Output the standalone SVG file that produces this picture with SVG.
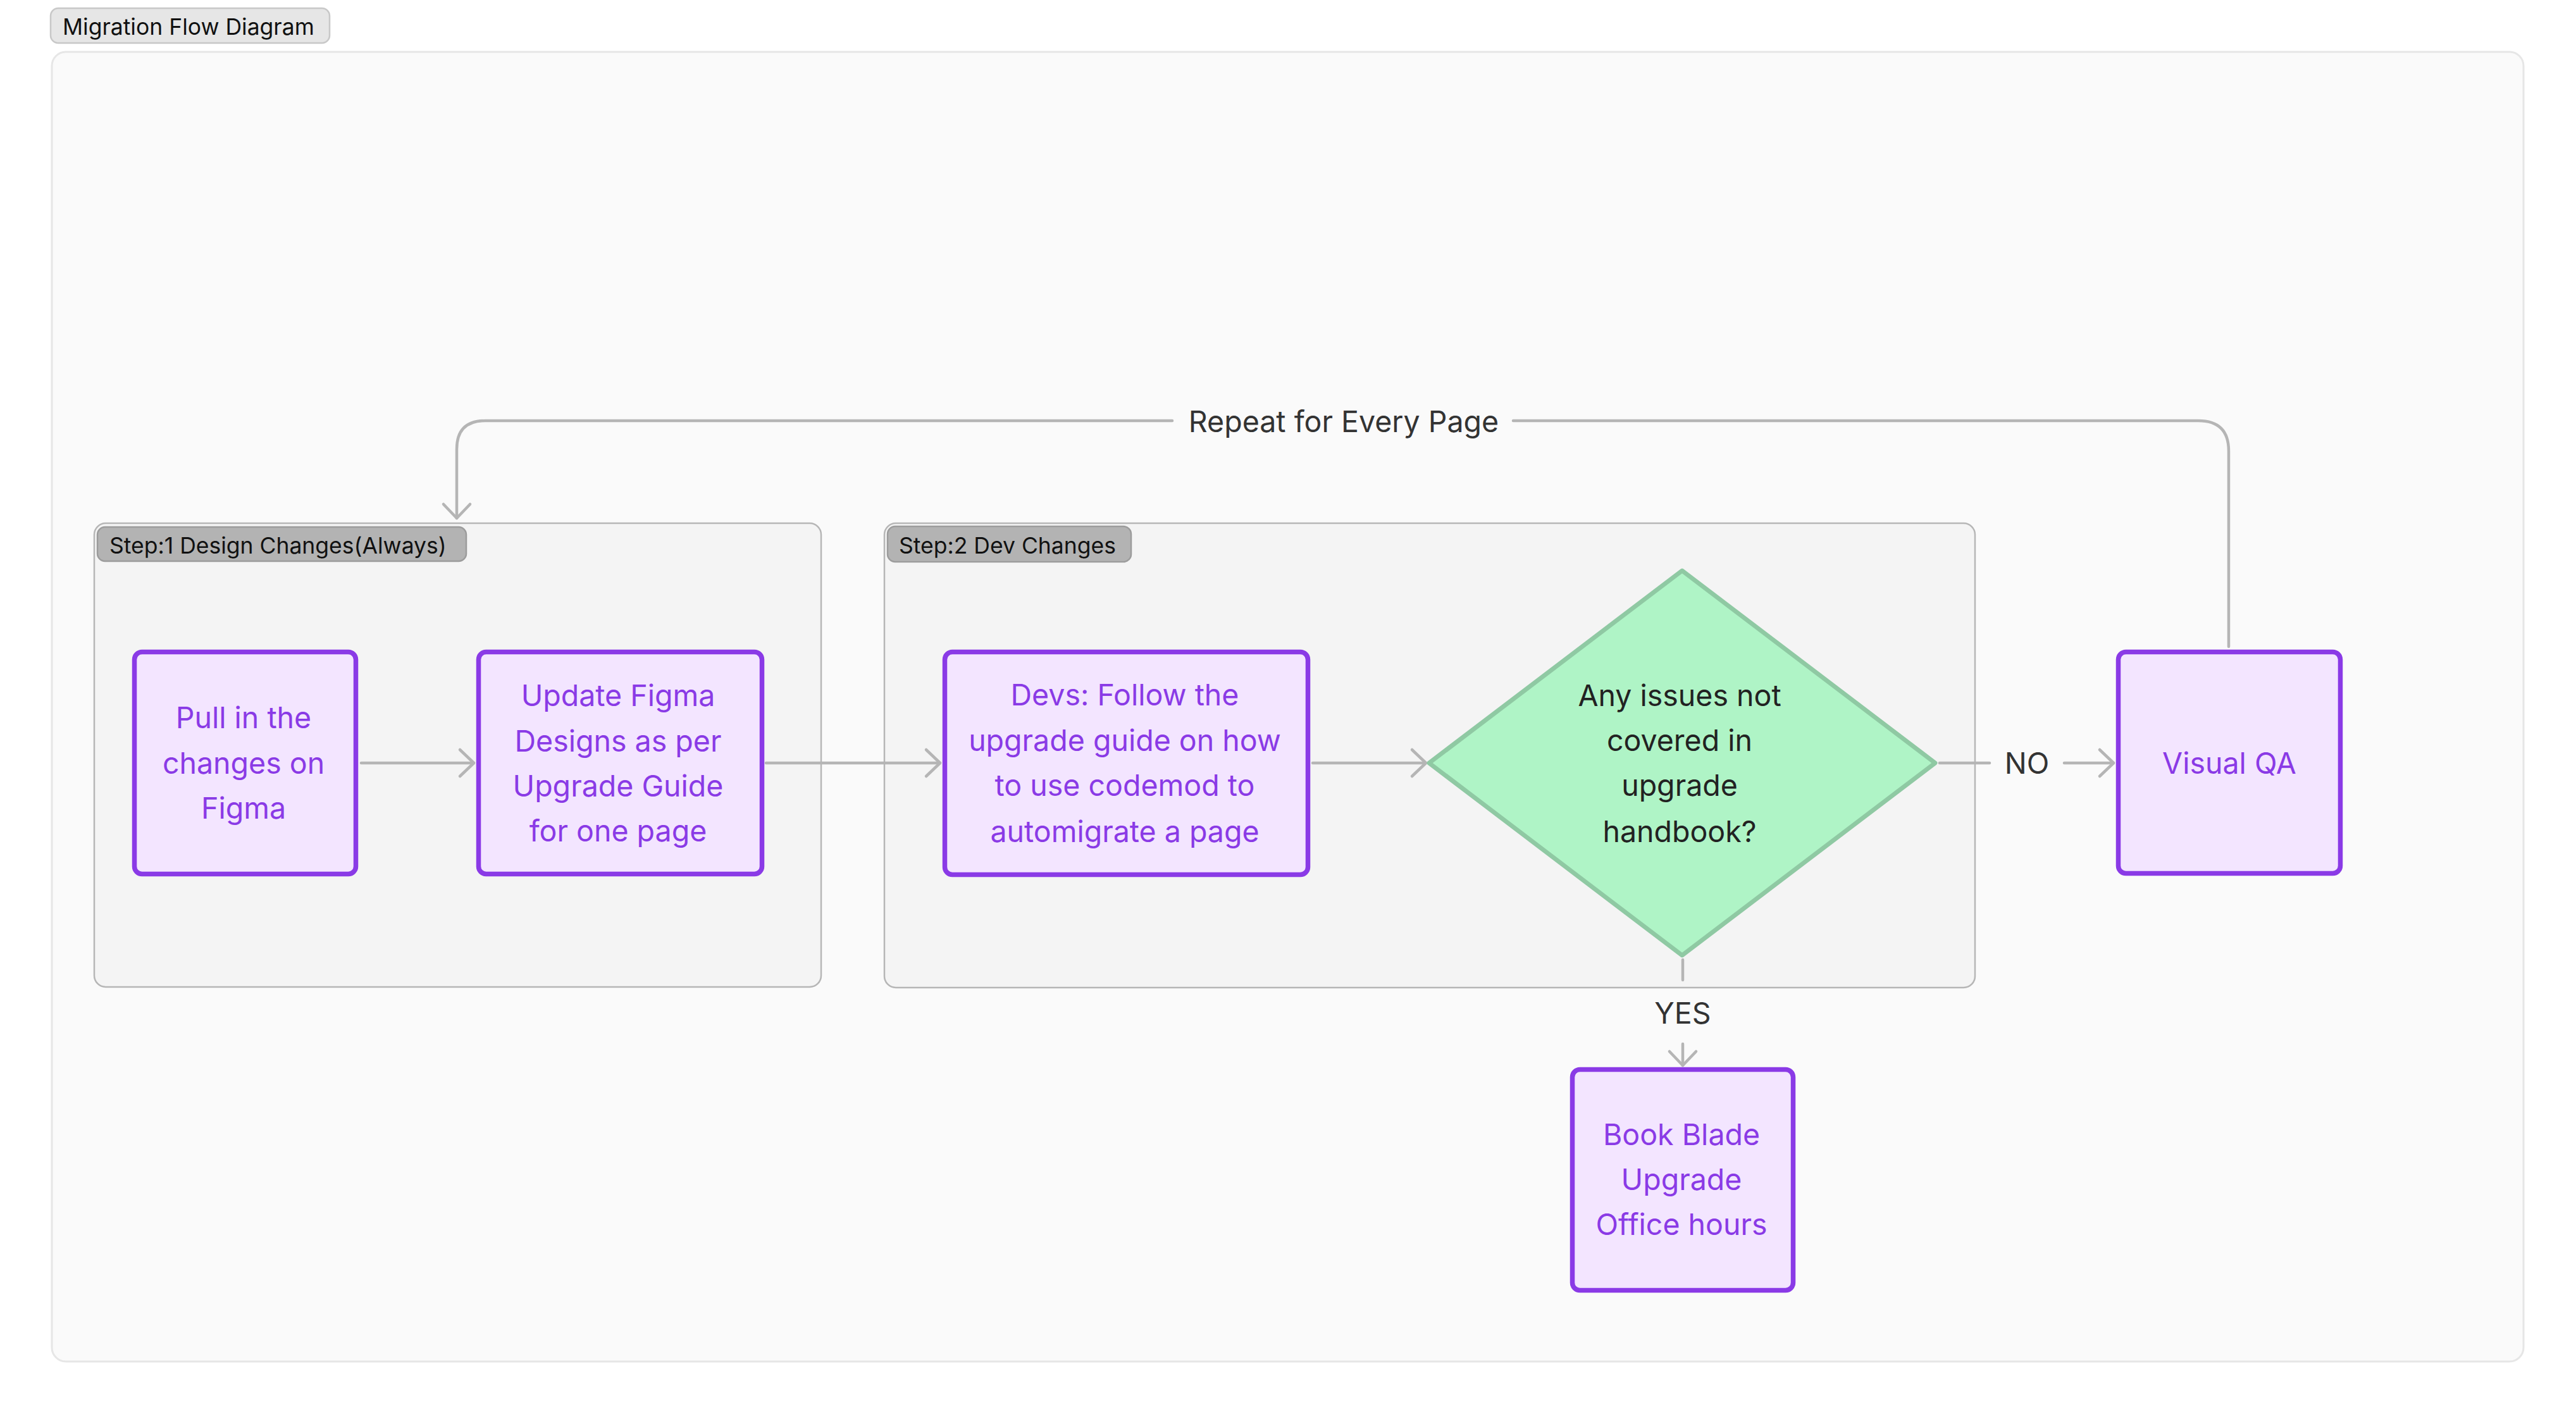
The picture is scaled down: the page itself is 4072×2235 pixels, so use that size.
<svg xmlns="http://www.w3.org/2000/svg" width="4072" height="2235" viewBox="0 0 4072 2235">
<defs>
<style>
.bg{fill:#ffffff}
.frame{fill:#fafafa;stroke:#e6e6e6;stroke-width:3}
.titlebox{fill:#e6e6e6;stroke:#c8c8c8;stroke-width:2.5}
.title{font-family:Inter,"Liberation Sans",sans-serif;font-size:35.5px;fill:#111}
.group{fill:#f4f4f4;stroke:#b6b6b6;stroke-width:2.5}
.glabel{fill:#b3b3b3;stroke:#9c9c9c;stroke-width:2.5}
.gtext{font-family:Inter,"Liberation Sans",sans-serif;font-size:35.5px;fill:#111}
.node{fill:#f3e5ff;stroke:#8a3ae6;stroke-width:7.5}
.ntext{font-family:Inter,"Liberation Sans",sans-serif;font-size:46.5px;fill:#8a3ae6;text-anchor:middle}
.dia{fill:#aff4c6;stroke:#8fc9a3;stroke-width:7;stroke-linejoin:round}
.dtext{font-family:Inter,"Liberation Sans",sans-serif;font-size:46.5px;fill:#222;text-anchor:middle}
.edge{fill:none;stroke:#b5b5b5;stroke-width:4.5;stroke-linecap:round;stroke-linejoin:round}
.elabel{font-family:Inter,"Liberation Sans",sans-serif;font-size:46.5px;fill:#333;text-anchor:middle}
</style>
<marker id="arr" viewBox="-26 -26 30 52" refX="0" refY="0" markerWidth="30" markerHeight="52" markerUnits="userSpaceOnUse" orient="auto">
<path d="M-22,-21 L0,0 L-22,21" fill="none" stroke="#b5b5b5" stroke-width="4.5" stroke-linecap="round" stroke-linejoin="round"/>
</marker>
</defs>
<rect class="bg" x="0" y="0" width="4072" height="2235"/>
<rect class="frame" x="82" y="82" width="3907" height="2070" rx="22"/>
<g id="title">
<rect class="titlebox" x="80" y="13" width="441" height="55" rx="12"/>
<text class="title" x="99" y="55">Migration Flow Diagram</text>
</g>
<g id="group1">
<rect class="group" x="149" y="827" width="1149" height="733" rx="18"/>
<rect class="glabel" x="154" y="833" width="583" height="54" rx="12"/>
<text class="gtext" x="173" y="875">Step:1 Design Changes(Always)</text>
</g>
<g id="group2">
<rect class="group" x="1398" y="827" width="1724" height="734" rx="18"/>
<rect class="glabel" x="1403" y="832" width="385" height="56" rx="12"/>
<text class="gtext" x="1421" y="875">Step:2 Dev Changes</text>
</g>
<g id="connectors">
<path class="edge" d="M571,1206 L749,1206" marker-end="url(#arr)"/>
<path class="edge" d="M1211,1206 L1486,1206" marker-end="url(#arr)"/>
<path class="edge" d="M2075,1206 L2254,1206" marker-end="url(#arr)"/>
<path class="edge" d="M3066,1206 L3145,1206"/>
<text class="elabel" x="3204" y="1223">NO</text>
<path class="edge" d="M3263,1206 L3341,1206" marker-end="url(#arr)"/>
<path class="edge" d="M2660,1517 L2660,1549"/>
<text class="elabel" x="2660" y="1618">YES</text>
<path class="edge" d="M2660,1650 L2660,1684" marker-end="url(#arr)"/>
<path class="edge" d="M3523,1022 L3523,713 Q3523,665 3475,665 L2392,665"/>
<text class="elabel" x="2124" y="683">Repeat for Every Page</text>
<path class="edge" d="M1853,665 L767,665 Q722,665 722,710 L722,819" marker-end="url(#arr)"/>
</g>
<g id="node-pull">
<rect class="node" x="212.5" y="1030.5" width="350" height="351" rx="12"/>
<text class="ntext" x="385" y="1151">Pull in the</text>
<text class="ntext" x="385" y="1223">changes on</text>
<text class="ntext" x="385" y="1294">Figma</text>
</g>
<g id="node-update">
<rect class="node" x="756.5" y="1030.5" width="448" height="351" rx="12"/>
<text class="ntext" x="977" y="1116">Update Figma</text>
<text class="ntext" x="977" y="1188">Designs as per</text>
<text class="ntext" x="977" y="1259">Upgrade Guide</text>
<text class="ntext" x="977" y="1330">for one page</text>
</g>
<g id="node-devs">
<rect class="node" x="1493.5" y="1030.5" width="574" height="352" rx="12"/>
<text class="ntext" x="1778" y="1115">Devs: Follow the</text>
<text class="ntext" x="1778" y="1187">upgrade guide on how</text>
<text class="ntext" x="1778" y="1258">to use codemod to</text>
<text class="ntext" x="1778" y="1331">automigrate a page</text>
</g>
<g id="node-decision">
<path class="dia" d="M2659,902 L3059,1206 L2659,1510 L2259,1206 Z"/>
<text class="dtext" x="2655" y="1116">Any issues not</text>
<text class="dtext" x="2655" y="1187">covered in</text>
<text class="dtext" x="2655" y="1258">upgrade</text>
<text class="dtext" x="2655" y="1331">handbook?</text>
</g>
<g id="node-visualqa">
<rect class="node" x="3348.5" y="1030.5" width="351" height="350" rx="12"/>
<text class="ntext" x="3524" y="1223">Visual QA</text>
</g>
<g id="node-book">
<rect class="node" x="2485.5" y="1690.5" width="349" height="349" rx="12"/>
<text class="ntext" x="2658" y="1810">Book Blade</text>
<text class="ntext" x="2658" y="1881">Upgrade</text>
<text class="ntext" x="2658" y="1952">Office hours</text>
</g>
</svg>
